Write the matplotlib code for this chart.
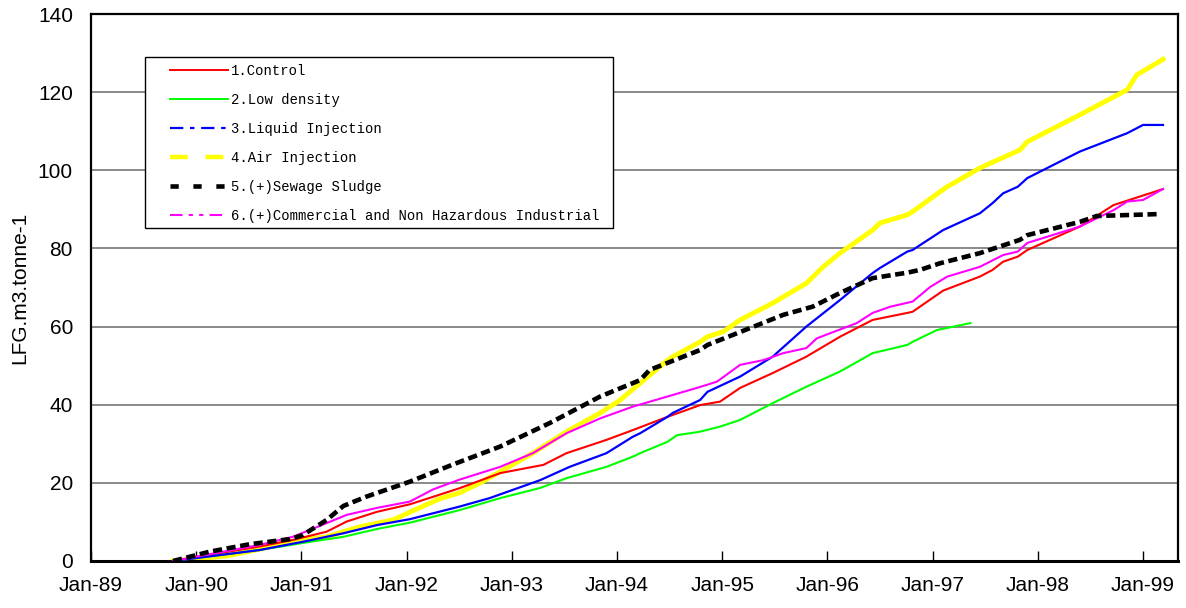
import matplotlib
matplotlib.use("Agg")
import matplotlib.pyplot as plt
from matplotlib.lines import Line2D
from matplotlib.patches import Rectangle

plt.rcParams["font.family"] = ["Liberation Sans", "DejaVu Sans"]

# decimal years / LFG m3 per tonne
x_control = [1989.78, 1990.6, 1990.92, 1991.24, 1991.43, 1991.72, 1992.03, 1992.5, 1992.89, 1993.3,
             1993.52, 1993.9, 1994.15, 1994.48, 1994.79, 1994.98, 1995.17, 1995.48, 1995.8, 1996.12,
             1996.43, 1996.76, 1996.81, 1997.1, 1997.45, 1997.57, 1997.67, 1997.81, 1997.9, 1998.4,
             1998.72, 1999.19]
y_control = [0, 3.7, 5.4, 7.5, 10.1, 12.6, 14.5, 18.6, 22.5, 24.6,
             27.6, 31.0, 33.5, 36.9, 39.9, 40.8, 44.3, 48.1, 52.3, 57.4,
             61.7, 63.5, 63.8, 69.2, 72.8, 74.5, 76.6, 77.9, 79.6, 85.6,
             91.1, 95.2]

x_low = [1989.78, 1990.6, 1991.01, 1991.4, 1991.72, 1992.03, 1992.5, 1992.89, 1993.27, 1993.52,
         1993.9, 1994.15, 1994.22, 1994.48, 1994.57, 1994.79, 1994.98, 1995.17, 1995.48, 1995.8,
         1996.12, 1996.43, 1996.76, 1996.81, 1997.04, 1997.36]
y_low = [0, 2.8, 4.6, 6.2, 8.2, 9.8, 13.0, 16.1, 18.7, 21.2,
         24.1, 26.7, 27.6, 30.5, 32.2, 33.1, 34.4, 36.1, 40.4, 44.6,
         48.5, 53.2, 55.3, 56.1, 59.1, 60.9]

x_liquid = [1989.78, 1990.6, 1991.01, 1991.4, 1991.72, 1992.03, 1992.5, 1992.79, 1993.27, 1993.55,
            1993.9, 1994.15, 1994.22, 1994.48, 1994.53, 1994.79, 1994.86, 1995.17, 1995.48, 1995.8,
            1996.12, 1996.43, 1996.5, 1996.76, 1996.81, 1997.1, 1997.45, 1997.57, 1997.67, 1997.81,
            1997.9, 1998.4, 1998.85, 1999.0, 1999.19]
y_liquid = [0, 2.8, 4.9, 7.1, 9.2, 10.7, 13.9, 16.1, 20.7, 24.1,
            27.6, 31.8, 32.7, 36.9, 37.9, 41.2, 43.3, 47.2, 52.3, 60.0,
            66.8, 73.7, 75.0, 79.2, 79.6, 84.7, 89.0, 91.6, 94.1, 95.8,
            98.0, 104.8, 109.5, 111.6, 111.6]

x_air = [1989.78, 1990.29, 1990.6, 1990.86, 1991.24, 1991.56, 1991.87, 1992.03, 1992.32, 1992.5,
         1992.7, 1993.2, 1993.52, 1993.84, 1994.03, 1994.22, 1994.48, 1994.53, 1994.79, 1994.86,
         1995.01, 1995.17, 1995.48, 1995.8, 1995.96, 1996.12, 1996.43, 1996.5, 1996.76, 1996.81,
         1997.07, 1997.14, 1997.45, 1997.83, 1997.9, 1998.4, 1998.85, 1998.94, 1999.19]
y_air = [0, 1.3, 3.0, 4.8, 6.2, 8.8, 10.5, 12.5, 16.0, 17.4,
         20.0, 27.6, 33.1, 37.9, 41.2, 45.5, 51.4, 52.3, 56.1, 57.4,
         58.7, 61.7, 66.0, 71.1, 75.3, 78.8, 84.7, 86.5, 88.6, 89.4,
         94.5, 95.8, 100.6, 105.2, 107.3, 114.2, 120.6, 124.4, 128.4]

x_sludge = [1989.78, 1990.13, 1990.51, 1990.89, 1991.01, 1991.24, 1991.4, 1991.62, 1992.03, 1992.45,
            1992.89, 1993.36, 1993.84, 1994.22, 1994.31, 1994.79, 1994.86, 1995.17, 1995.58, 1995.86,
            1996.12, 1996.43, 1996.76, 1996.88, 1997.07, 1997.45, 1997.83, 1997.9, 1998.4, 1998.56,
            1999.16]
y_sludge = [0, 2.4, 4.3, 5.6, 6.6, 10.5, 14.1, 16.5, 20.3, 24.8,
            29.3, 35.3, 42.1, 46.3, 48.9, 54.0, 55.3, 58.6, 63.0, 65.1,
            68.6, 72.4, 73.8, 74.5, 76.2, 78.8, 82.2, 83.4, 86.8, 88.3,
            88.8]

x_comm = [1989.78, 1990.6, 1990.92, 1991.24, 1991.43, 1991.72, 1992.03, 1992.25, 1992.5, 1992.89,
          1993.2, 1993.52, 1993.84, 1994.15, 1994.48, 1994.76, 1994.95, 1995.17, 1995.39, 1995.58,
          1995.8, 1995.9, 1996.28, 1996.43, 1996.6, 1996.81, 1996.98, 1997.14, 1997.45, 1997.67,
          1997.81, 1997.9, 1998.4, 1998.72, 1998.85, 1999.0, 1999.19]
y_comm = [0, 4.1, 6.2, 9.7, 11.8, 13.6, 15.2, 18.3, 20.8, 24.1,
          27.6, 32.7, 36.5, 39.5, 42.1, 44.3, 45.9, 50.2, 51.4, 53.2,
          54.5, 57.0, 60.9, 63.5, 65.1, 66.4, 70.2, 72.8, 75.3, 78.3,
          79.2, 81.4, 85.6, 89.8, 92.0, 92.4, 95.2]

labels = ["1.Control", "2.Low density", "3.Liquid Injection", "4.Air Injection",
          "5.(+)Sewage Sludge", "6.(+)Commercial and Non Hazardous Industrial"]
years = list(range(1989, 2000))
year_labels = ["Jan-89", "Jan-90", "Jan-91", "Jan-92", "Jan-93", "Jan-94",
               "Jan-95", "Jan-96", "Jan-97", "Jan-98", "Jan-99"]

W, H = 1186, 608
fig = plt.figure(figsize=(W / 100, H / 100), dpi=100)
ax = fig.add_axes([91 / W, 47 / H, 1087 / W, 547 / H])

ax.plot(x_control, y_control, color="#ff0000", lw=1.5, zorder=3)
ax.plot(x_low, y_low, color="#00ff00", lw=1.5, zorder=3)
ax.plot(x_liquid, y_liquid, color="#0000ff", lw=1.6, zorder=3)
ax.plot(x_air, y_air, color="#ffff00", lw=3.5, zorder=2)
ax.plot(x_sludge, y_sludge, color="black", lw=3.3, dashes=(2, 1), zorder=4)
ax.plot(x_comm, y_comm, color="#ff00ff", lw=1.5, zorder=3)

ax.set_xlim(1989, 1989 + 1087 / 105.2)
ax.set_ylim(0, 140)
ax.set_xticks(years)
ax.set_xticklabels(year_labels)
ax.set_yticks(range(0, 141, 20))
ax.tick_params(axis="x", direction="in", length=7, width=1, pad=11, labelsize=15)
ax.tick_params(axis="y", length=0, pad=13, labelsize=15)
ax.grid(axis="y", color="#808080", lw=1.3)
ax.set_axisbelow(True)
for s in ax.spines.values():
    s.set_linewidth(1.6)
ax.spines["bottom"].set_linewidth(2.2)
ax.set_ylabel("LFG.m3.tonne-1", fontsize=15, labelpad=6)

# legend box drawn on its own, entries placed inside it
def px_to_ax(px, py):
    return (px - 91) / 1087, (561 - py) / 547

bx0, by0 = px_to_ax(145, 228)
bx1, by1 = px_to_ax(613, 57)
ax.add_patch(Rectangle((bx0, by0), bx1 - bx0, by1 - by0, transform=ax.transAxes,
                       facecolor="white", edgecolor="black", lw=1.0, zorder=5))

handles = [
    Line2D([], [], color="#ff0000", lw=1.4),
    Line2D([], [], color="#00ff00", lw=1.4),
    Line2D([], [], color="#0000ff", lw=1.6, dashes=(6, 3, 2, 3)),
    Line2D([], [], color="#ffff00", lw=3.2, dashes=(4, 4)),
    Line2D([], [], color="black", lw=3.3, dashes=(1.8, 3.2)),
    Line2D([], [], color="#ff00ff", lw=1.5, dashes=(6, 3, 2, 3, 2, 3)),
]
leg = ax.legend(handles, labels, loc="upper left", bbox_to_anchor=px_to_ax(170, 64),
                borderaxespad=0, borderpad=0, frameon=False,
                prop={"family": "Liberation Mono", "size": 10},
                handlelength=4.2, handletextpad=0.2, labelspacing=1.08)
leg.set_zorder(6)

plt.savefig("out.png", dpi=100)
